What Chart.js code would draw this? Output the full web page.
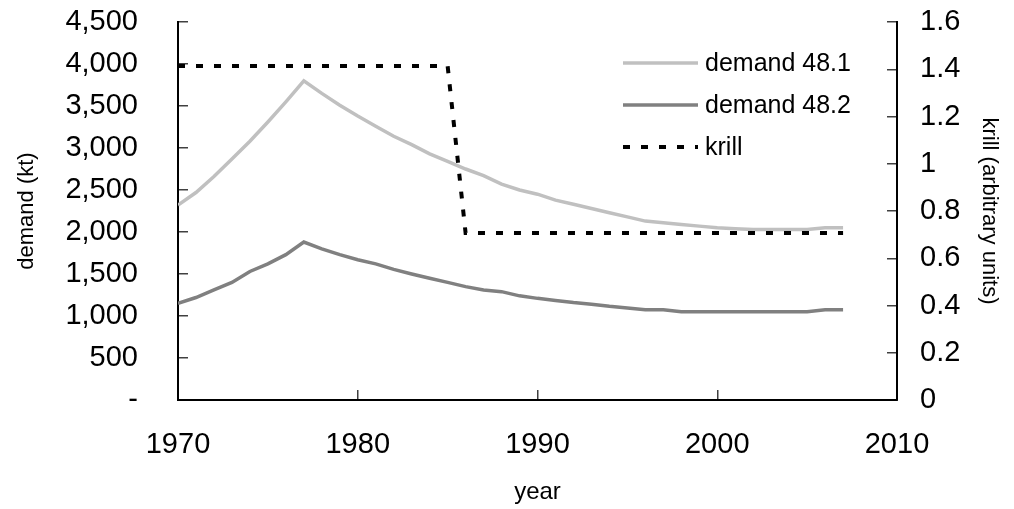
<!DOCTYPE html>
<html>
<head>
<meta charset="utf-8">
<title>demand and krill</title>
<script src="https://cdn.jsdelivr.net/npm/chart.js@4/dist/chart.umd.min.js"></script>
<style>
    html, body { margin: 0; padding: 0; background: #fff; }
    #wrap { width: 1014px; height: 509px; position: relative; }
</style>
</head>
<body>
<div id="wrap"><canvas id="chart"></canvas></div>
<script>
// values
const years = [1970, 1971, 1972, 1973, 1974, 1975, 1976, 1977, 1978, 1979,
               1980, 1981, 1982, 1983, 1984, 1985, 1986, 1987, 1988, 1989,
               1990, 1991, 1992, 1993, 1994, 1995, 1996, 1997, 1998, 1999,
               2000, 2001, 2002, 2003, 2004, 2005, 2006, 2007];

const demand481 = [2320, 2470, 2660, 2870, 3080, 3310, 3550, 3800, 3650, 3510,
                   3380, 3260, 3140, 3040, 2930, 2840, 2750, 2670, 2570, 2500,
                   2450, 2380, 2330, 2280, 2230, 2180, 2130, 2110, 2090, 2070,
                   2050, 2040, 2030, 2030, 2030, 2030, 2050, 2050];

const demand482 = [1150, 1220, 1310, 1400, 1530, 1620, 1730, 1880, 1800, 1730,
                   1670, 1620, 1555, 1500, 1450, 1400, 1350, 1310, 1290, 1240,
                   1210, 1185, 1160, 1140, 1115, 1095, 1075, 1075, 1050, 1050,
                   1050, 1050, 1050, 1050, 1050, 1050, 1075, 1075];

const krill = [1.414, 1.414, 1.414, 1.414, 1.414, 1.414, 1.414, 1.414, 1.414, 1.414,
               1.414, 1.414, 1.414, 1.414, 1.414, 1.414, 0.707, 0.707, 0.707, 0.707,
               0.707, 0.707, 0.707, 0.707, 0.707, 0.707, 0.707, 0.707, 0.707, 0.707,
               0.707, 0.707, 0.707, 0.707, 0.707, 0.707, 0.707, 0.707];

const seriesNames = ['demand 48.1', 'demand 48.2', 'krill'];
const xTicks = [1970, 1980, 1990, 2000, 2010];

const FONT = 'Liberation Sans, Arial, sans-serif';

function pairs(vals) {
    return years.map((y, i) => ({ x: y, y: vals[i] }));
}

// legend drawn inside the plot, like the original
const innerLegend = {
    id: 'innerLegend',
    afterDraw(chart) {
        const ctx = chart.ctx;
        const x0 = 623, x1 = 698, tx = 705;
        const rows = [63, 105, 147];
        ctx.save();
        ctx.font = '25px ' + FONT;
        ctx.textBaseline = 'middle';
        ctx.fillStyle = '#000';
        chart.data.datasets.forEach((ds, i) => {
            ctx.beginPath();
            ctx.strokeStyle = ds.borderColor;
            ctx.lineWidth = ds.borderWidth;
            ctx.setLineDash(ds.borderDash || []);
            ctx.moveTo(x0, rows[i]);
            ctx.lineTo(x1, rows[i]);
            ctx.stroke();
            ctx.setLineDash([]);
            ctx.fillText(ds.label, tx, rows[i] + 1);
        });
        ctx.restore();
    }
};

// ticks point into the plot, labels sit further out
const tickGrid = { drawOnChartArea: false, drawTicks: true, tickLength: -10, color: '#404040', lineWidth: 1.5 };
const axisBorder = { display: true, color: '#000', width: 2 };

function fixWidth(w) {
    return s => { s.width = w; s.paddingTop = 0; s.paddingBottom = 0; };
}

new Chart(document.getElementById('chart'), {
    type: 'line',
    data: {
        datasets: [
            { label: seriesNames[0], data: pairs(demand481), yAxisID: 'y', borderColor: '#c0c0c0', borderWidth: 3.5, pointRadius: 0, tension: 0, order: 1 },
            { label: seriesNames[1], data: pairs(demand482), yAxisID: 'y', borderColor: '#808080', borderWidth: 3.5, pointRadius: 0, tension: 0, order: 1 },
            { label: seriesNames[2], data: pairs(krill), yAxisID: 'y2', borderColor: '#000', borderWidth: 4, borderDash: [7, 11], pointRadius: 0, tension: 0, order: 0 }
        ]
    },
    options: {
        responsive: true,
        maintainAspectRatio: false,
        animation: false,
        layout: { padding: { top: 22, left: 0, right: 0, bottom: 0 } },
        plugins: { legend: { display: false }, tooltip: { enabled: false } },
        scales: {
            x: {
                type: 'linear',
                min: 1970, max: 2010,
                afterBuildTicks: s => { s.ticks = xTicks.map(v => ({ value: v })); },
                afterFit: s => { s.height = 109; s.paddingLeft = 0; s.paddingRight = 0; },
                grid: tickGrid,
                border: axisBorder,
                ticks: { color: '#000', font: { family: FONT, size: 29 }, padding: 38, maxRotation: 0, autoSkip: false, callback: v => String(v) },
                title: { display: true, text: 'year', color: '#000', font: { family: FONT, size: 24 }, padding: { top: 0, bottom: 2 } }
            },
            y: {
                position: 'left',
                min: 0, max: 4500,
                afterFit: fixWidth(178),
                grid: tickGrid,
                border: axisBorder,
                ticks: { stepSize: 500, autoSkip: false, color: '#000', font: { family: FONT, size: 29 }, padding: 50,
                         callback: v => v === 0 ? '-' : v.toLocaleString('en-US') },
                title: { display: true, text: 'demand (kt)', color: '#000', font: { family: FONT, size: 22 }, padding: { top: 14, bottom: 0 } }
            },
            y2: {
                position: 'right',
                min: 0, max: 1.6,
                afterFit: fixWidth(117),
                grid: tickGrid,
                border: axisBorder,
                ticks: { stepSize: 0.2, autoSkip: false, color: '#000', font: { family: FONT, size: 29 }, padding: 33,
                         callback: v => String(parseFloat(v.toFixed(1))) },
                title: { display: true, text: 'krill (arbitrary units)', color: '#000', font: { family: FONT, size: 22 }, padding: { top: 12, bottom: 0 } }
            }
        }
    },
    plugins: [innerLegend]
});
</script>
</body>
</html>
